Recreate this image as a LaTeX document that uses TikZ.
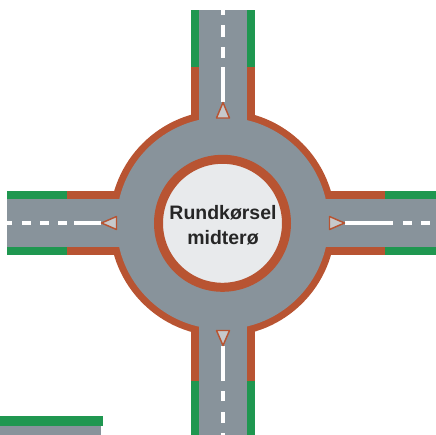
\documentclass[tikz,border=0pt]{standalone}
\usepackage{fontspec}
\setmainfont{Liberation Sans}
\definecolor{roadg}{HTML}{88939B}
\definecolor{kerbr}{HTML}{B85432}
\definecolor{kerbg}{HTML}{1F9750}
\definecolor{islandc}{HTML}{E8EAEC}
\definecolor{arrowc}{HTML}{C6C9CC}
\tikzset{x=0.75pt,y=-0.75pt,
 road/.style={fill=roadg,draw=none},
 green kerb/.style={fill=kerbg,draw=none},
 red kerb/.style={fill=kerbr,draw=none},
 lane/.style={fill=white,draw=none},
 yield/.style={fill=arrowc,draw=kerbr,line width=1.1pt,line join=round},
}
\begin{document}
\begin{tikzpicture}
\useasboundingbox (0,0) rectangle (436,435);
\coordinate (c) at (222.5,223.3);
% red kerbs
\fill[red kerb] (191,67) rectangle (199,125);
\fill[red kerb] (247,67) rectangle (255,125);
\fill[red kerb] (191,325) rectangle (199,381);
\fill[red kerb] (247,325) rectangle (255,381);
\fill[red kerb] (67,191) rectangle (125,199);
\fill[red kerb] (67,247) rectangle (125,255);
\fill[red kerb] (325,191) rectangle (385,199);
\fill[red kerb] (325,247) rectangle (385,255);
% green kerbs
\fill[green kerb] (191,10) rectangle (199,67);
\fill[green kerb] (247,10) rectangle (255,67);
\fill[green kerb] (191,381) rectangle (199,435);
\fill[green kerb] (247,381) rectangle (255,435);
\fill[green kerb] (7,191) rectangle (67,199);
\fill[green kerb] (7,247) rectangle (67,255);
\fill[green kerb] (385,191) rectangle (436,199);
\fill[green kerb] (385,247) rectangle (436,255);
% ring
\fill[red kerb] (c) circle[radius=113];
\fill[road] (c) circle[radius=106];
% roads
\fill[road] (199,10) rectangle (247,130);
\fill[road] (199,320) rectangle (247,435);
\fill[road] (7,199) rectangle (130,247);
\fill[road] (320,199) rectangle (436,247);
% lane marks
\foreach \a/\b in {10/15,25/37,47/58,67/102,346/381,391/401,412/423,433/435}
  \fill[lane] (220.5,\a) rectangle (224.5,\b);
\foreach \a/\b in {7/12,22/31,40/49,58/67,74/101,345/393,403/412,421/430}
  \fill[lane] (\a,221) rectangle (\b,225);
% yield triangles
\draw[yield] (223,102.5) -- (229.5,118) -- (216.5,118) -- cycle;
\draw[yield] (223,345.5) -- (229.5,330.5) -- (216.5,330.5) -- cycle;
\draw[yield] (101.5,223) -- (116.5,216.5) -- (116.5,229.5) -- cycle;
\draw[yield] (344.5,223) -- (329.5,216.5) -- (329.5,229.5) -- cycle;
% island
\node[circle,draw=kerbr,fill=islandc,line width=6.75pt,minimum size=96pt,inner sep=0pt] (island) at (c) {};
\node[align=center,text=black!85,font=\fontsize{14.6}{18.6}\selectfont\bfseries] (islandtext) at (223,225) {Rundkørsel\\midterø};
% corner fragment
\fill[green kerb] (0,416) rectangle (102.5,425.5);
\fill[road] (0,425.5) rectangle (101,435);
\end{tikzpicture}
\end{document}
